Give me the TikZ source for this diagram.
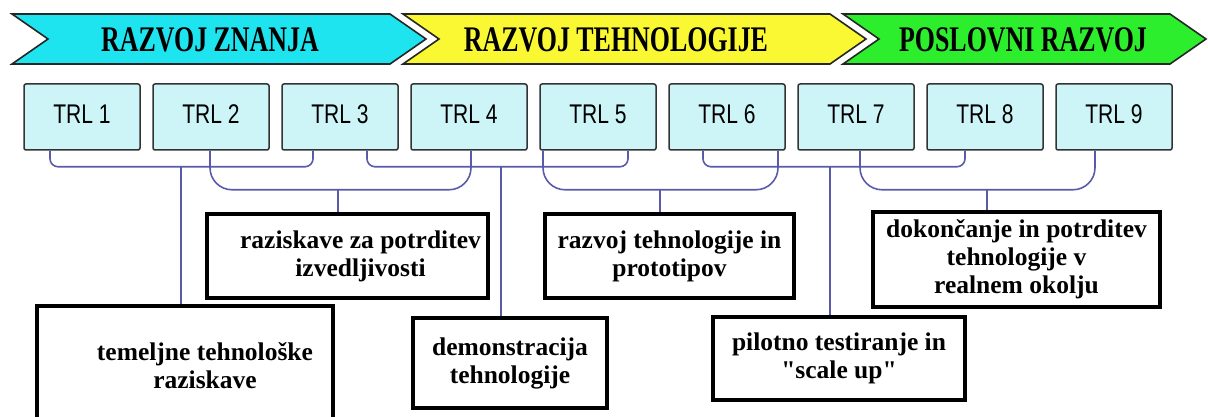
\documentclass[tikz,border=0pt]{standalone}
\usepackage{fontspec}
\setmainfont{Liberation Serif}
\newfontfamily\trlfont{Liberation Sans}
\usepackage{graphicx}
\usetikzlibrary{calc}

\definecolor{bancyan}{RGB}{30,228,240}
\definecolor{banyellow}{RGB}{250,248,50}
\definecolor{bangreen}{RGB}{45,238,45}
\definecolor{trlfill}{RGB}{205,245,248}
\definecolor{linkblue}{RGB}{90,90,170}

\tikzset{
  banner/.style={draw=black!85,line width=1.6pt,line join=miter},
  title/.style={font=\bfseries\fontsize{36}{38}\selectfont,inner sep=0pt},
  trl/.style={draw=black!80,fill=trlfill,line width=1.5pt,rounded corners=2pt,
    minimum width=116pt,minimum height=66pt,font=\trlfont\fontsize{27}{29}\selectfont},
  stage/.style={draw=black,fill=white,line width=3.8pt,align=center,inner sep=0pt,
    font=\bfseries\fontsize{25.5}{28}\selectfont},
  link/.style={draw=linkblue,line width=1.6pt},
}

\begin{document}
\begin{tikzpicture}[x=1pt,y=-1pt]
\useasboundingbox (0,0) rectangle (1208,417);

% faze
\draw[banner,fill=bancyan] (12,14) -- (390,14) -- (426,39) -- (390,64) -- (12,64) -- (48,39) -- cycle;
\draw[banner,fill=banyellow] (403,14) -- (830,14) -- (866,39) -- (830,64) -- (403,64) -- (439,39) -- cycle;
\draw[banner,fill=bangreen] (843,14) -- (1170,14) -- (1206,39) -- (1170,64) -- (843,64) -- (879,39) -- cycle;
\node[title] (znanje) at (210,40) {\scalebox{0.72}[1]{RAZVOJ ZNANJA}};
\node[title] (tehno) at (616,40) {\scalebox{0.72}[1]{RAZVOJ TEHNOLOGIJE}};
\node[title] (posel) at (1023,40) {\scalebox{0.72}[1]{POSLOVNI RAZVOJ}};

% TRL nivoji
\foreach \i in {1,...,9}
  \node[trl] (t\i) at ({82+129*(\i-1)},117) {\raisebox{6pt}{\scalebox{0.78}[1]{TRL \i}}};

% opisi
\node[stage,minimum width=296pt,minimum height=120pt] (tem) at (185,366)
  {\hspace*{40pt}temeljne tehnološke\\\hspace*{40pt}raziskave};
\node[stage,minimum width=281pt,minimum height=84pt] (raz) at (347.5,256)
  {\hspace*{26pt}raziskave za potrditev\\\hspace*{26pt}izvedljivosti};
\node[stage,minimum width=194pt,minimum height=90pt] (dem) at (510,363) {demonstracija\\tehnologije};
\node[stage,minimum width=249pt,minimum height=84pt] (proto) at (669.5,256) {razvoj tehnologije in\\prototipov};
\node[stage,minimum width=252pt,minimum height=83pt] (pil) at (839,358.5)
  {pilotno testiranje in\\\textquotedbl scale up\textquotedbl};
\node[stage,minimum width=287pt,minimum height=95pt] (dok) at (1016.5,259.5) {dokončanje in potrditev\\tehnologije v\\realnem okolju};

% oklepaji
\draw[link,rounded corners=8pt] ($(t1.south)+(-32,0)$) |- ($(t3.south)+(-27,16)$) -- ($(t3.south)+(-27,0)$);
\draw[link,rounded corners=22pt] ($(t2.south)+(-1,0)$) |- ($(t4.south)+(2,39)$) -- ($(t4.south)+(2,0)$);
\draw[link,rounded corners=8pt] ($(t3.south)+(27,0)$) |- ($(t5.south)+(30,16)$) -- ($(t5.south)+(30,0)$);
\draw[link,rounded corners=22pt] ($(t5.south)+(-55,0)$) |- ($(t6.south)+(51,39)$) -- ($(t6.south)+(51,0)$);
\draw[link,rounded corners=8pt] ($(t6.south)+(-24,0)$) |- ($(t8.south)+(-20,16)$) -- ($(t8.south)+(-20,0)$);
\draw[link,rounded corners=22pt] ($(t7.south)+(4,0)$) |- ($(t9.south)+(-19,39)$) -- ($(t9.south)+(-19,0)$);

% povezave do opisov
\coordinate (sA) at (181,166);
\coordinate (sB) at (338,189);
\coordinate (sC) at (501,166);
\coordinate (sD) at (660,189);
\coordinate (sE) at (830,166);
\coordinate (sF) at (987,189);
\draw[link] (sA) -- (sA |- tem.north);
\draw[link] (sB) -- (sB |- raz.north);
\draw[link] (sC) -- (sC |- dem.north);
\draw[link] (sD) -- (sD |- proto.north);
\draw[link] (sE) -- (sE |- pil.north);
\draw[link] (sF) -- (sF |- dok.north);
\end{tikzpicture}
\end{document}
